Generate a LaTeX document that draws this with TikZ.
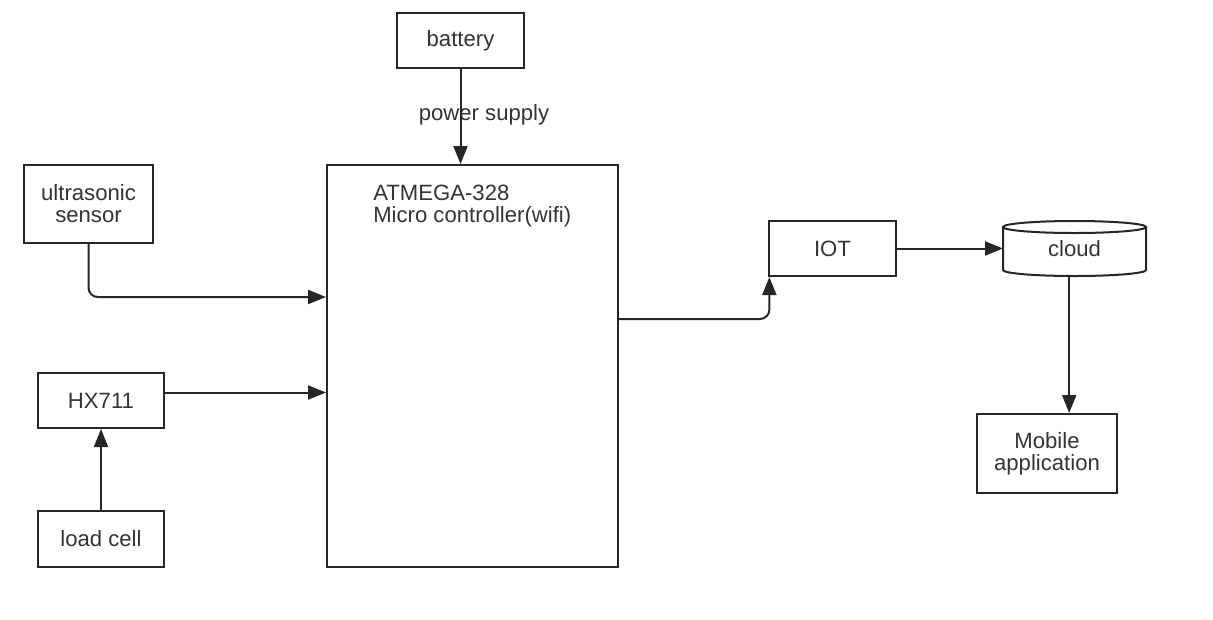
\documentclass[tikz,border=0pt]{standalone}
\usepackage{fontspec}
\setmainfont{Liberation Sans}
\usetikzlibrary{arrows.meta}
\begin{document}
\begin{tikzpicture}[x=0.75pt,y=-0.75pt,
  txt/.style={text=black!80,font=\fontsize{16.6}{16.6}\selectfont},
  blk/.style={txt,draw=black!85,line width=1.5pt,inner sep=0pt,align=center},
  arr/.style={draw=black!85,line width=1.5pt,-{Triangle[length=13.5pt,width=10.5pt]}}]
  \useasboundingbox (0,0) rectangle (1213,619);
  \node[blk,minimum width=95.25pt,minimum height=41.25pt] (battery) at (460.5,40.5) {battery};
  \node[blk,minimum width=218.25pt,minimum height=301.5pt] (mcu) at (472.5,366) {};
  \node[txt,anchor=north west,inner sep=0pt,align=left] (mcuname) at (373,185) {ATMEGA-328\\Micro controller(wifi)};
  \node[blk,minimum width=96.75pt,minimum height=58.5pt] (us) at (88.5,204) {ultrasonic\\sensor};
  \node[blk,minimum width=94.5pt,minimum height=41.25pt] (hx) at (101,400.5) {HX711};
  \node[blk,minimum width=94.5pt,minimum height=42pt] (load) at (101,539) {load cell};
  \node[blk,minimum width=95.25pt,minimum height=41.25pt] (iot) at (832.5,248.5) {IOT};
  \node[blk,draw=none,outer sep=0pt,minimum width=107.25pt,minimum height=41.25pt] (cloud) at (1074.5,248.5) {cloud};
  \node[blk,minimum width=105pt,minimum height=59.25pt] (mobile) at (1047,453.5) {Mobile\\application};
  \draw[draw=black!85,line width=1.5pt] ([yshift=-4.5pt]cloud.north west) -- ([yshift=4.5pt]cloud.south west)
    arc[start angle=180,end angle=360,x radius=53.625pt,y radius=4.5pt] -- ([yshift=-4.5pt]cloud.north east);
  \draw[draw=black!85,line width=1.5pt] ([yshift=-4.5pt]cloud.north) ellipse[x radius=53.625pt,y radius=4.5pt];
  \node[txt] (pwr) at (484,115) {power supply};
  \draw[arr] (battery.south) -- (battery.south |- mcu.north);
  \draw[arr,rounded corners=7pt] (us.south) |- ([yshift=51.75pt]mcu.west);
  \draw[arr] ([yshift=6pt]hx.east) -- ([yshift=6pt]hx.east -| mcu.west);
  \draw[arr] (load.north) -- (hx.south);
  \draw[arr,rounded corners=7pt] ([yshift=35.25pt]mcu.east) -| ([xshift=1pt]iot.south west);
  \draw[arr] (iot.east) -- (iot.east -| cloud.west);
  \draw[arr] ([xshift=-4pt]cloud.south) -- ([xshift=-4pt]cloud.south |- mobile.north);
\end{tikzpicture}
\end{document}
